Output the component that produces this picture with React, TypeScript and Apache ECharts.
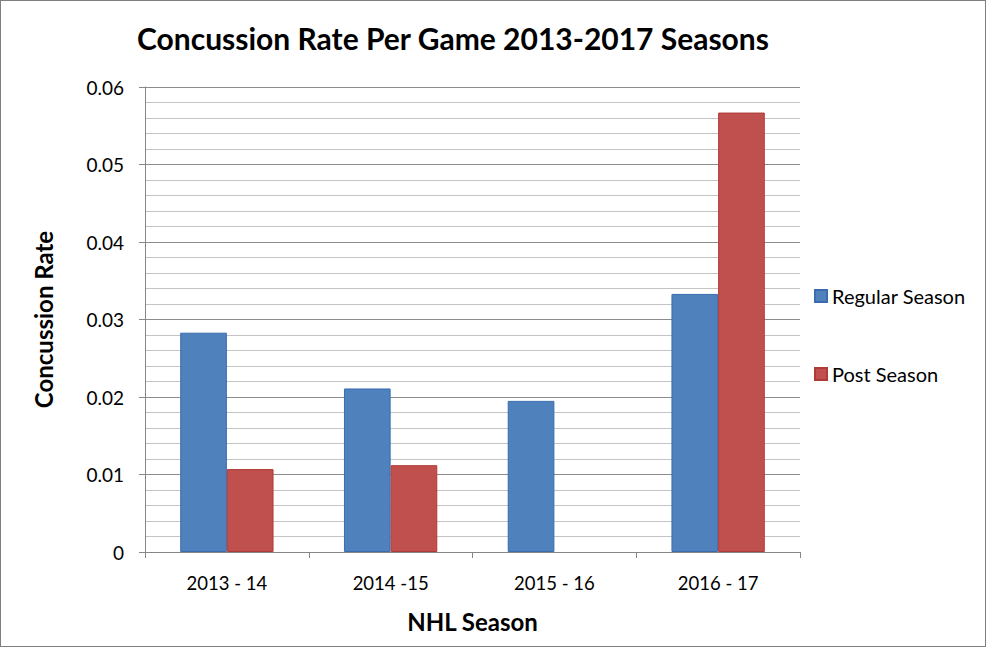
import React, { useEffect, useRef } from "react";
import * as echarts from "echarts";

const categories = ["2013 - 14", "2014 -15", "2015 - 16", "2016 - 17"];
const regularSeason = [0.0283, 0.0211, 0.0195, 0.0333];
const postSeason = [0.0107, 0.0112, 0, 0.0567];
const yTicks = { min: 0, max: 0.06, interval: 0.01 };

const FONT = "Lato, 'Open Sans', sans-serif";

export default function App() {
  const ref = useRef<HTMLDivElement>(null);
  useEffect(() => {
    document.body.style.margin = "0";
    const chart = echarts.init(ref.current!, null, { renderer: "svg" });
    chart.setOption({
      animation: false,
      backgroundColor: "#ffffff",
      textStyle: { fontFamily: FONT },
      title: {
        text: "Concussion Rate Per Game 2013-2017 Seasons",
        left: 447,
        top: 17,
        textAlign: "center",
        textStyle: { fontSize: 30, fontWeight: "bold", color: "#000", fontFamily: FONT },
      },
      legend: {
        orient: "vertical",
        left: 808,
        top: 280,
        itemGap: 58,
        itemWidth: 12,
        itemHeight: 12,
        icon: "rect",
        textStyle: { fontSize: 20, color: "#000", fontFamily: FONT },
        data: ["Regular Season", "Post Season"],
      },
      grid: { left: 144, right: 185, top: 86, bottom: 94, containLabel: false },
      xAxis: {
        type: "category",
        data: categories,
        name: "NHL Season",
        nameLocation: "middle",
        nameGap: 57,
        nameTextStyle: { fontSize: 24, fontWeight: "bold", color: "#000", fontFamily: FONT },
        axisLine: { lineStyle: { color: "#868686", width: 1 } },
        axisTick: { show: true, length: 6, lineStyle: { color: "#868686" } },
        axisLabel: { fontSize: 18.5, color: "#000", margin: 21, fontFamily: FONT },
      },
      yAxis: {
        type: "value",
        min: yTicks.min,
        max: yTicks.max,
        interval: yTicks.interval,
        name: "Concussion Rate",
        nameLocation: "middle",
        nameGap: 90,
        nameTextStyle: { fontSize: 24, fontWeight: "bold", color: "#000", fontFamily: FONT },
        axisLine: { show: true, lineStyle: { color: "#868686", width: 1 } },
        axisTick: { show: true, length: 6, lineStyle: { color: "#868686" } },
        axisLabel: {
          fontSize: 19,
          color: "#000",
          margin: 21,
          fontFamily: FONT,
          formatter: (v: number) => (v === 0 ? "0" : v.toFixed(2)),
        },
        splitLine: { show: true, lineStyle: { color: "#8c8c8c", width: 1 } },
        minorTick: { show: false, splitNumber: 5 },
        minorSplitLine: { show: true, lineStyle: { color: "#c4c4c4", width: 1 } },
      },
      series: [
        {
          name: "Regular Season",
          type: "bar",
          data: regularSeason,
          barGap: "0%",
          barCategoryGap: "43%",
          itemStyle: { color: "#4f81bd", borderColor: "#3a6cb0", borderWidth: 1 },
        },
        {
          name: "Post Season",
          type: "bar",
          data: postSeason.map((v) => (v === 0 ? { value: v, itemStyle: { borderWidth: 0 } } : v)),
          barGap: "0%",
          barCategoryGap: "43%",
          itemStyle: { color: "#c0504d", borderColor: "#b03a37", borderWidth: 1 },
        },
      ],
    });
    return () => chart.dispose();
  }, []);
  return (
    <div
      style={{
        width: 986,
        height: 647,
        boxSizing: "border-box",
        border: "1px solid #7f7f7f",
        position: "relative",
      }}
    >
      <div ref={ref} style={{ width: 984, height: 645 }} />
    </div>
  );
}
